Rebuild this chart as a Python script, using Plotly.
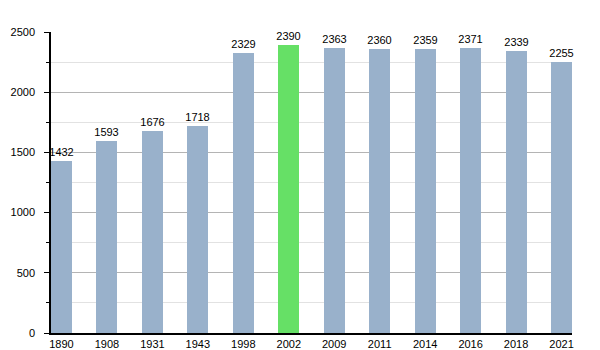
import plotly.graph_objects as go

years = ["1890", "1908", "1931", "1943", "1998", "2002", "2009", "2011", "2014", "2016", "2018", "2021"]
population = [1432, 1593, 1676, 1718, 2329, 2390, 2363, 2360, 2359, 2371, 2339, 2255]
highlight_year = "2002"

bar_blue = "#99b1cb"
bar_green = "#66e066"
colors = [bar_green if y == highlight_year else bar_blue for y in years]

fig = go.Figure(
    go.Bar(
        x=list(range(len(years))),
        y=population,
        width=0.46,
        marker=dict(color=colors, line=dict(width=0)),
        text=[str(v) for v in population],
        textposition="outside",
        constraintext="none",
        textfont=dict(family="Liberation Sans, Arial, sans-serif", size=11, color="#000"),
        cliponaxis=False,
        hoverinfo="skip",
    )
)

fig.update_layout(
    width=600,
    height=350,
    margin=dict(l=51, r=28, t=32, b=17),
    paper_bgcolor="white",
    plot_bgcolor="white",
    showlegend=False,
    font=dict(family="Liberation Sans, Arial, sans-serif", size=11, color="#000"),
    bargap=0,
)

fig.update_xaxes(
    tickmode="array",
    tickvals=list(range(len(years))),
    ticktext=years,
    range=[-0.23, len(years) - 1 + 0.23],
    showgrid=False,
    showline=True,
    linecolor="#000",
    linewidth=1.5,
    ticks="",
    ticklabelstandoff=0,
    zeroline=False,
    automargin=False,
)

fig.update_yaxes(
    range=[0, 2500],
    tickvals=[0, 500, 1000, 1500, 2000, 2500],
    showgrid=True,
    gridcolor="#b4b4b4",
    gridwidth=1,
    showline=True,
    linecolor="#000",
    linewidth=1.5,
    ticks="outside",
    ticklen=5,
    tickcolor="#000",
    ticklabelstandoff=7,
    zeroline=False,
    automargin=False,
    minor=dict(
        dtick=250,
        showgrid=True,
        gridcolor="#e2e2e2",
        gridwidth=1,
        ticks="outside",
        ticklen=3,
        tickcolor="#000",
    ),
)

fig.write_html("out.html")
